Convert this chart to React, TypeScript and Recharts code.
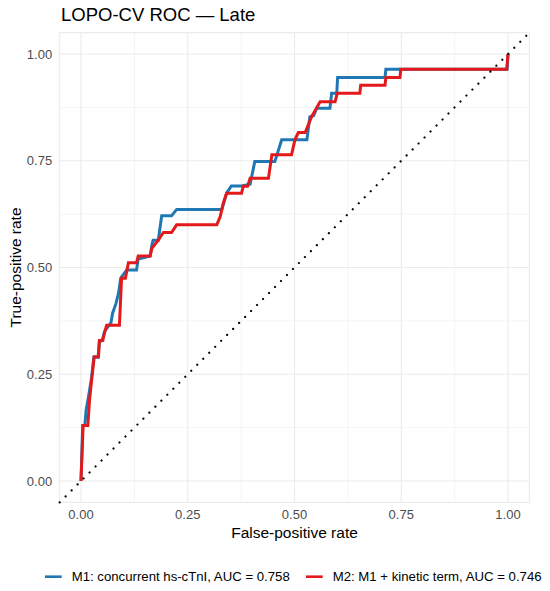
import React from 'react';
import { LineChart, Line, XAxis, YAxis, CartesianGrid, ReferenceLine } from 'recharts';

// ---- data ----
const m1Fpr = [0, 0.004, 0.009, 0.012, 0.018, 0.024, 0.030, 0.040, 0.043, 0.050, 0.055, 0.062, 0.070, 0.074, 0.082, 0.088, 0.093, 0.107, 0.130, 0.134, 0.162, 0.166, 0.169, 0.181, 0.189, 0.212, 0.224, 0.330, 0.341, 0.352, 0.376, 0.396, 0.407, 0.454, 0.470, 0.529, 0.536, 0.545, 0.552, 0.583, 0.587, 0.599, 0.601, 0.712, 0.714, 0.998, 1.0];
const m1Tpr = [0, 0.130, 0.130, 0.166, 0.200, 0.237, 0.290, 0.290, 0.325, 0.330, 0.350, 0.360, 0.370, 0.393, 0.416, 0.440, 0.475, 0.494, 0.494, 0.520, 0.527, 0.553, 0.564, 0.564, 0.621, 0.621, 0.636, 0.636, 0.674, 0.691, 0.691, 0.695, 0.748, 0.748, 0.799, 0.799, 0.853, 0.856, 0.873, 0.873, 0.908, 0.908, 0.945, 0.945, 0.964, 0.964, 1.0];

const m2Fpr = [0, 0.005, 0.016, 0.020, 0.025, 0.031, 0.041, 0.043, 0.051, 0.055, 0.060, 0.090, 0.095, 0.104, 0.111, 0.130, 0.134, 0.162, 0.166, 0.181, 0.193, 0.212, 0.224, 0.318, 0.326, 0.333, 0.341, 0.376, 0.380, 0.390, 0.396, 0.439, 0.447, 0.493, 0.501, 0.509, 0.525, 0.540, 0.560, 0.595, 0.600, 0.653, 0.655, 0.712, 0.714, 0.747, 0.749, 0.997, 1.0];
const m2Tpr = [0, 0.130, 0.130, 0.190, 0.237, 0.291, 0.291, 0.329, 0.329, 0.347, 0.365, 0.365, 0.475, 0.475, 0.511, 0.511, 0.527, 0.527, 0.545, 0.564, 0.582, 0.582, 0.600, 0.600, 0.619, 0.650, 0.674, 0.674, 0.690, 0.690, 0.709, 0.709, 0.764, 0.764, 0.799, 0.816, 0.816, 0.853, 0.888, 0.888, 0.908, 0.908, 0.927, 0.927, 0.945, 0.945, 0.964, 0.964, 1.0];

const seriesNames = ['M1: concurrent hs-cTnI, AUC = 0.758', 'M2: M1 + kinetic term, AUC = 0.746'];
const seriesColors = ['#1F78B4', '#E31A1C'];

const majorTicks = [0, 0.25, 0.5, 0.75, 1];
const minorTicks = [0.125, 0.375, 0.625, 0.875];
const axisDomain: [number, number] = [-0.05, 1.05];

const titleText = 'LOPO-CV ROC \u2014 Late';
const xTitle = 'False-positive rate';
const yTitle = 'True-positive rate';

const m1Data = m1Fpr.map((f, i) => ({ fpr: f, tpr: m1Tpr[i] }));
const m2Data = m2Fpr.map((f, i) => ({ fpr: f, tpr: m2Tpr[i] }));
const allSeries = [m1Data, m2Data];

const FONT = '"Liberation Sans", Arial, Helvetica, sans-serif';
const W = 550;
const H = 591;

const XTitle = (props: any) => {
  const vb = props.viewBox;
  return (
    <text x={vb.x + vb.width / 2} y={538} textAnchor="middle" fontSize={15.5} fill="#000" fontFamily={FONT}>
      {xTitle}
    </text>
  );
};

const YTitle = (props: any) => {
  const vb = props.viewBox;
  const cy = vb.y + vb.height / 2;
  return (
    <text x={15} y={cy} dy="0.36em" textAnchor="middle" fontSize={15.5} fill="#000" fontFamily={FONT} transform={`rotate(-90, 15, ${cy})`}>
      {yTitle}
    </text>
  );
};

export default function App() {
  return (
    <div style={{ position: 'absolute', left: 0, top: 0, width: W, height: H, background: '#fff', fontFamily: FONT }}>
      <LineChart
        width={W}
        height={H}
        margin={{ top: 32.65, right: 20.65, bottom: 58.65, left: 9.65 }}
      >
        <CartesianGrid stroke="#EBEBEB" strokeWidth={1.1} />
        {minorTicks.map((t) => (
          <ReferenceLine key={'mx' + t} x={t} stroke="#EBEBEB" strokeWidth={0.55} />
        ))}
        {minorTicks.map((t) => (
          <ReferenceLine key={'my' + t} y={t} stroke="#EBEBEB" strokeWidth={0.55} />
        ))}
        <XAxis
          type="number"
          dataKey="fpr"
          domain={axisDomain}
          ticks={majorTicks}
          allowDataOverflow
          tickFormatter={(v: number) => v.toFixed(2)}
          axisLine={false}
          tickLine={false}
          tickSize={0}
          tickMargin={7.4}
          height={30}
          tick={{ fill: '#4D4D4D', fontSize: 13, fontFamily: FONT }}
          label={<XTitle />}
        />
        <YAxis
          type="number"
          dataKey="tpr"
          domain={axisDomain}
          ticks={majorTicks}
          allowDataOverflow
          tickFormatter={(v: number) => v.toFixed(2)}
          axisLine={false}
          tickLine={false}
          tickSize={0}
          tickMargin={7.5}
          width={50}
          tick={{ fill: '#4D4D4D', fontSize: 13, fontFamily: FONT }}
          label={<YTitle />}
        />
        {allSeries.map((d, i) => (
          <Line
            key={i}
            data={d}
            dataKey="tpr"
            type="linear"
            stroke={seriesColors[i]}
            strokeWidth={3}
            strokeLinejoin="miter"
            dot={false}
            activeDot={false}
            isAnimationActive={false}
            name={seriesNames[i]}
          />
        ))}
        <ReferenceLine
          segment={[{ x: axisDomain[0], y: axisDomain[0] }, { x: axisDomain[1], y: axisDomain[1] }]}
          stroke="#000"
          strokeWidth={2.2}
          strokeDasharray="0.01 8.45"
          strokeLinecap="round"
        />
      </LineChart>
      <svg width={W} height={H} style={{ position: 'absolute', left: 0, top: 0, pointerEvents: 'none' }}>
        <text x={61} y={21} fontSize={18.5} fill="#000" fontFamily={FONT}>{titleText}</text>
        {seriesNames.map((n, i) => {
          const x0 = i === 0 ? 45 : 306;
          return (
            <g key={n}>
              <line x1={x0} x2={x0 + 16.7} y1={576.7} y2={576.7} stroke={seriesColors[i]} strokeWidth={2.6} />
              <text x={x0 + 26.7} y={581.4} fontSize={13.2} fill="#000" fontFamily={FONT}>{n}</text>
            </g>
          );
        })}
      </svg>
    </div>
  );
}
